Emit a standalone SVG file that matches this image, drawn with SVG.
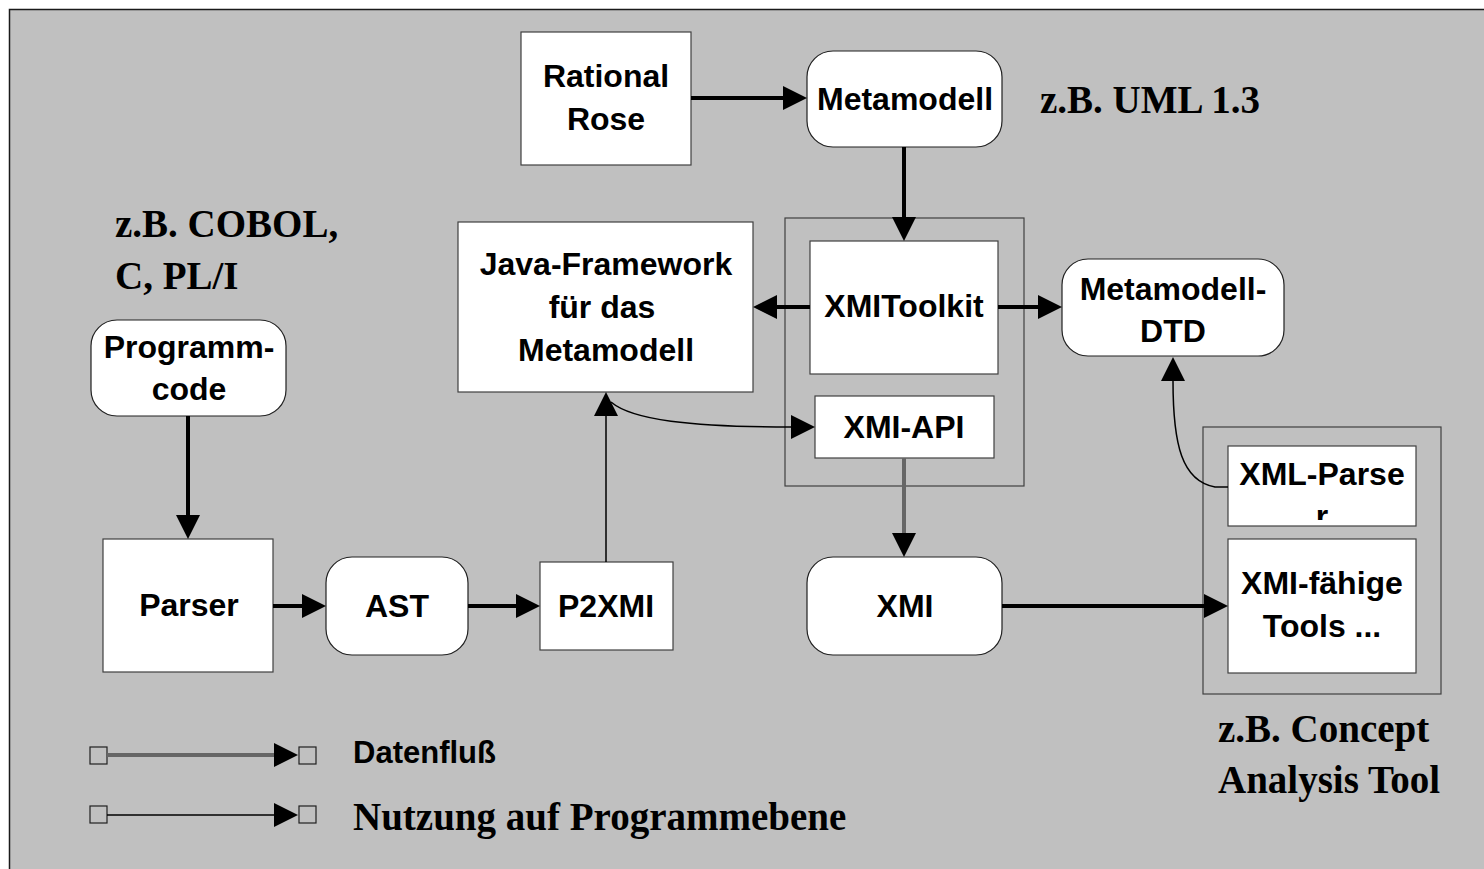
<svg xmlns="http://www.w3.org/2000/svg" width="1484" height="869" viewBox="0 0 1484 869">
  <style>
    .box { fill: #ffffff; stroke: #404040; stroke-width: 1.2; }
    .rbox { fill: #ffffff; stroke: #202020; stroke-width: 1.2; }
    .frame { fill: none; stroke: #404040; stroke-width: 1.2; }
    .lbl { font-family: "Liberation Sans", Arial, sans-serif; font-weight: bold; font-size: 32px; fill: #000; text-anchor: middle; }
    .note { font-family: "Liberation Serif", "Times New Roman", serif; font-weight: bold; font-size: 39px; fill: #000; }
    .thick { fill: none; stroke: #000; stroke-width: 4; }
    .thin { fill: none; stroke: #000; stroke-width: 1.5; }
    .flow { fill: none; stroke: #666666; stroke-width: 4; }
    .sq { fill: none; stroke: #202020; stroke-width: 1.2; }
  </style>
  <defs>
    <marker id="head" viewBox="0 0 24 24" markerWidth="24" markerHeight="24" markerUnits="userSpaceOnUse" refX="0" refY="12" orient="auto">
      <path d="M0,0 L24,12 L0,24 Z" fill="#000"/>
    </marker>
    <clipPath id="clipParser">
      <rect x="1228" y="446" width="188" height="74"/>
    </clipPath>
  </defs>

  <!-- slide background -->
  <rect x="0" y="0" width="1484" height="869" fill="#ffffff"/>
  <rect x="9" y="9" width="1475" height="860" fill="#c0c0c0"/>
  <path d="M9.5,869 L9.5,9.5 L1484,9.5" fill="none" stroke="#1a1a1a" stroke-width="1.5"/>

  <!-- free-standing notes -->
  <text class="note" x="1040" y="113">z.B. UML 1.3</text>
  <text class="note" x="115" y="237">z.B. COBOL,</text>
  <text class="note" x="115" y="289">C, PL/I</text>
  <text class="note" x="1218" y="742">z.B. Concept</text>
  <text class="note" x="1218" y="793">Analysis Tool</text>

  <!-- container frames -->
  <g id="xmi-package">
    <rect class="frame" x="785" y="218" width="239" height="268"/>
  </g>
  <g id="tools-package">
    <rect class="frame" x="1203" y="427" width="238" height="267"/>
  </g>

  <!-- nodes -->
  <g id="rational-rose">
    <rect class="box" x="521" y="32" width="170" height="133"/>
    <text class="lbl" x="606" y="87">Rational</text>
    <text class="lbl" x="606" y="130">Rose</text>
  </g>
  <g id="metamodell">
    <rect class="rbox" x="807" y="51" width="195" height="96" rx="26"/>
    <text class="lbl" x="905" y="110">Metamodell</text>
  </g>
  <g id="java-framework">
    <rect class="box" x="458" y="222" width="295" height="170"/>
    <text class="lbl" x="606" y="275">Java-Framework</text>
    <text class="lbl" x="602" y="318">für das</text>
    <text class="lbl" x="606" y="361">Metamodell</text>
  </g>
  <g id="xmitoolkit">
    <rect class="box" x="810" y="241" width="188" height="133"/>
    <text class="lbl" x="904" y="317">XMIToolkit</text>
  </g>
  <g id="xmi-api">
    <rect class="box" x="815" y="396" width="179" height="62"/>
    <text class="lbl" x="904" y="438">XMI-API</text>
  </g>
  <g id="metamodell-dtd">
    <rect class="rbox" x="1062" y="259" width="222" height="97" rx="26"/>
    <text class="lbl" x="1173" y="300">Metamodell-</text>
    <text class="lbl" x="1173" y="342">DTD</text>
  </g>
  <g id="xml-parser">
    <rect class="box" x="1228" y="446" width="188" height="80"/>
    <g clip-path="url(#clipParser)">
      <text class="lbl" x="1322" y="485">XML-Parse</text>
      <text class="lbl" x="1322" y="527">r</text>
    </g>
  </g>
  <g id="xmi-tools">
    <rect class="box" x="1228" y="539" width="188" height="134"/>
    <text class="lbl" x="1322" y="594">XMI-fähige</text>
    <text class="lbl" x="1322" y="637">Tools ...</text>
  </g>
  <g id="xmi">
    <rect class="rbox" x="807" y="557" width="195" height="98" rx="26"/>
    <text class="lbl" x="905" y="617">XMI</text>
  </g>
  <g id="programmcode">
    <rect class="rbox" x="91" y="320" width="195" height="96" rx="26"/>
    <text class="lbl" x="189" y="358">Programm-</text>
    <text class="lbl" x="189" y="400">code</text>
  </g>
  <g id="parser">
    <rect class="box" x="103" y="539" width="170" height="133"/>
    <text class="lbl" x="189" y="616">Parser</text>
  </g>
  <g id="ast">
    <rect class="rbox" x="326" y="557" width="142" height="98" rx="26"/>
    <text class="lbl" x="397" y="617">AST</text>
  </g>
  <g id="p2xmi">
    <rect class="box" x="540" y="562" width="133" height="88"/>
    <text class="lbl" x="606" y="617">P2XMI</text>
  </g>

  <!-- connectors -->
  <g id="connectors">
    <path class="thick" d="M691,98 L783,98" marker-end="url(#head)"/>
    <path class="thick" d="M904,147 L904,217" marker-end="url(#head)"/>
    <path class="thick" d="M810,307 L777,307" marker-end="url(#head)"/>
    <path class="thick" d="M998,307 L1038,307" marker-end="url(#head)"/>
    <path class="thin" d="M1228,487 L1215,487 C1182,481 1173,445 1173,381" marker-end="url(#head)"/>
    <path class="flow" d="M904,458 L904,533" marker-end="url(#head)"/>
    <path class="thick" d="M1002,606 L1204,606" marker-end="url(#head)"/>
    <path class="thin" d="M606,562 L606,416" marker-end="url(#head)"/>
    <path class="thin" d="M611,402 C632,420 690,427 791,427" marker-end="url(#head)"/>
    <path class="thick" d="M188,416 L188,515" marker-end="url(#head)"/>
    <path class="thick" d="M273,606 L302,606" marker-end="url(#head)"/>
    <path class="thick" d="M468,606 L516,606" marker-end="url(#head)"/>
  </g>

  <!-- legend -->
  <g id="legend">
    <rect class="sq" x="90" y="747" width="17" height="17"/>
    <path class="flow" d="M107,755 L274,755" marker-end="url(#head)"/>
    <rect class="sq" x="299" y="747" width="17" height="17"/>
    <text class="lbl" x="353" y="763" style="text-anchor:start;font-size:31px">Datenfluß</text>

    <rect class="sq" x="90" y="806" width="17" height="17"/>
    <path class="thin" d="M107,815 L274,815" marker-end="url(#head)"/>
    <rect class="sq" x="299" y="806" width="17" height="17"/>
    <text class="note" x="353" y="830">Nutzung auf Programmebene</text>
  </g>
</svg>
